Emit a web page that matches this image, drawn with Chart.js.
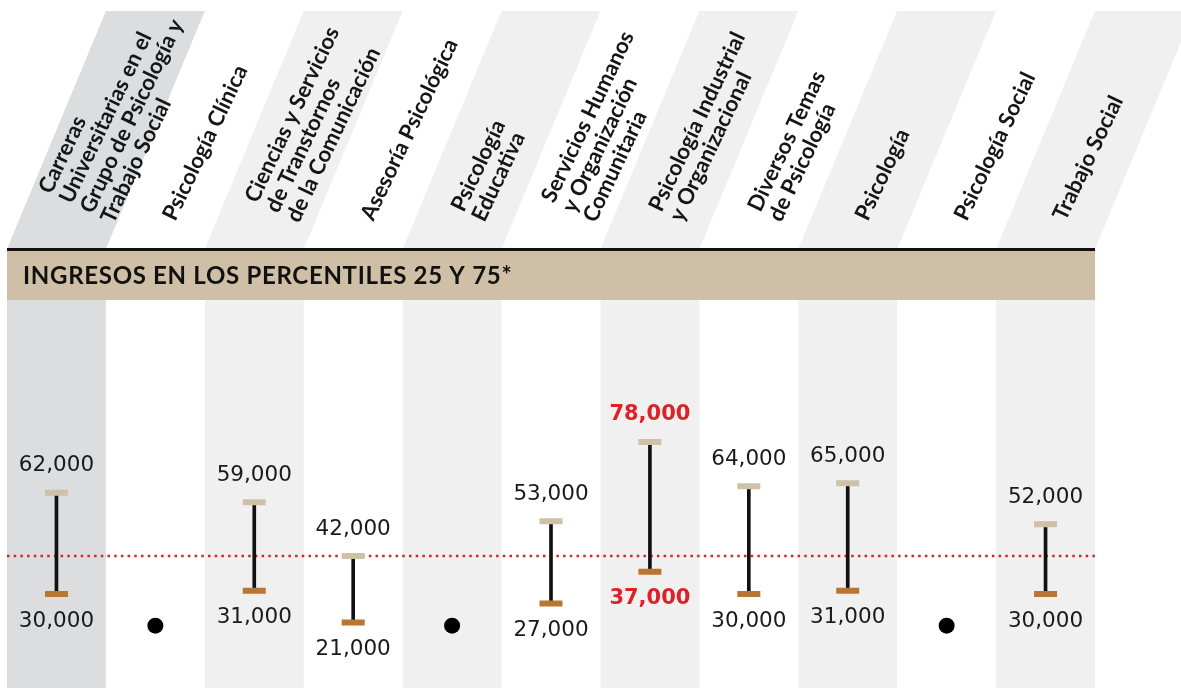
<!DOCTYPE html>
<html>
<head>
<meta charset="utf-8">
<script src="https://cdn.jsdelivr.net/npm/chart.js@4.4.0/dist/chart.umd.min.js"></script>
<style>
html,body{margin:0;padding:0;background:#ffffff;}
#wrap{width:1181px;height:688px;position:relative;overflow:hidden;}
canvas{display:block;}
</style>
</head>
<body>
<div id="wrap"><canvas id="chart" width="1181" height="688"></canvas></div>
<script>
// ---- Data ----
const categories = [
  'Carreras\nUniversitarias en el\nGrupo de Psicología y\nTrabajo Social',
  'Psicología Clínica',
  'Ciencias y Servicios\nde Transtornos\nde la Comunicación',
  'Asesoría Psicológica',
  'Psicología\nEducativa',
  'Servicios Humanos\ny Organización\nComunitaria',
  'Psicología Industrial\ny Organizacional',
  'Diversos Temas\nde Psicología',
  'Psicología',
  'Psicología Social',
  'Trabajo Social'
];
const percentile75 = [62000, null, 59000, 42000, null, 53000, 78000, 64000, 65000, null, 52000];
const percentile25 = [30000, null, 31000, 21000, null, 27000, 37000, 30000, 31000, null, 30000];
const referenceValue = 42000;
const highlightIndex = 6;
const bannerTitle = 'INGRESOS EN LOS PERCENTILES 25 Y 75*';

// ---- Style constants ----
const NO_DATA_LEVEL = 20000;   // where the "no data" dot sits on the value axis
const COLORS = {
  firstBand: '#dcdddf',
  band: '#f0f0f0',
  banner: '#cebfa6',
  capTop: '#cfc1a7',
  capBottom: '#b97633',
  range: '#111111',
  text: '#1a1a1a',
  red: '#dc2229'
};
const HEADER_TOP = 11, HEADER_BOTTOM = 249, BANNER_TOP = 249, BANNER_BOTTOM = 300;
const TEXT_ANGLE = 64.5 * Math.PI / 180;

const fmt = v => v.toLocaleString('en-US');
const labels = categories.map(c => c.replace(/\n/g, ' '));

const rangeData = percentile25.map((v, i) => (v == null || percentile75[i] == null) ? null : [v, percentile75[i]]);
const missingData = percentile25.map((v, i) => (v == null && percentile75[i] == null) ? NO_DATA_LEVEL : null);

function colBounds(chart, i) {
  const xs = chart.scales.x;
  const ca = chart.chartArea;
  const w = (ca.right - ca.left) / categories.length;
  const c = xs.getPixelForValue(i);
  return { left: c - w / 2, right: c + w / 2, center: c, width: w };
}

const decorPlugin = {
  id: 'decor',
  beforeDraw(chart) {
    const ctx = chart.ctx, ca = chart.chartArea;
    ctx.save();
    ctx.fillStyle = '#ffffff';
    ctx.fillRect(0, 0, chart.width, chart.height);
    // column bands + slanted header bands
    for (let i = 0; i < categories.length; i += 2) {
      const b = colBounds(chart, i);
      ctx.fillStyle = i === 0 ? COLORS.firstBand : COLORS.band;
      ctx.fillRect(b.left, BANNER_BOTTOM, b.width, chart.height - BANNER_BOTTOM);
      const shift = b.width;
      ctx.beginPath();
      ctx.moveTo(b.left, HEADER_BOTTOM);
      ctx.lineTo(b.right, HEADER_BOTTOM);
      ctx.lineTo(b.right + shift, HEADER_TOP);
      ctx.lineTo(b.left + shift, HEADER_TOP);
      ctx.closePath();
      ctx.fill();
    }
    // banner
    ctx.fillStyle = COLORS.banner;
    ctx.fillRect(ca.left, BANNER_TOP, ca.right - ca.left, BANNER_BOTTOM - BANNER_TOP);
    ctx.fillStyle = '#111';
    ctx.fillRect(ca.left, BANNER_TOP - 1, ca.right - ca.left, 3);
    ctx.fillStyle = '#111';
    ctx.font = 'bold 24px Lato';
    try { ctx.letterSpacing = '0.7px'; } catch (e) {}
    ctx.textAlign = 'left';
    ctx.textBaseline = 'middle';
    ctx.fillText(bannerTitle, ca.left + 16, (BANNER_TOP + BANNER_BOTTOM) / 2 + 2);
    try { ctx.letterSpacing = '0px'; } catch (e) {}

    // header labels
    ctx.fillStyle = '#151515';
    ctx.font = 'bold 22px Lato';
    ctx.textBaseline = 'alphabetic';
    const lh = 23;
    categories.forEach((cat, i) => {
      const lines = cat.split('\n');
      const n = lines.length;
      const b = colBounds(chart, i);
      ctx.save();
      ctx.translate(b.center + 20, 222);
      ctx.rotate(-TEXT_ANGLE);
      lines.forEach((ln, k) => {
        ctx.fillText(ln, (n - 1) * 4.5, (k - (n - 1) / 2) * lh);
      });
      ctx.restore();
    });

    // reference dotted line
    const y = chart.scales.y.getPixelForValue(referenceValue);
    ctx.strokeStyle = COLORS.red;
    ctx.lineWidth = 2.5;
    ctx.setLineDash([2.5, 4.2]);
    ctx.beginPath();
    ctx.moveTo(ca.left, y);
    ctx.lineTo(ca.right, y);
    ctx.stroke();
    ctx.restore();
  },
  afterDatasetsDraw(chart) {
    const ctx = chart.ctx, ys = chart.scales.y;
    ctx.save();
    ctx.textAlign = 'center';
    ctx.textBaseline = 'middle';
    categories.forEach((c, i) => {
      const hi = i === highlightIndex;
      ctx.fillStyle = hi ? COLORS.red : COLORS.text;
      ctx.font = hi ? 'bold 21px "DejaVu Sans"' : '21.5px "DejaVu Sans"';
      const x = colBounds(chart, i).center;
      if (percentile75[i] != null) ctx.fillText(fmt(percentile75[i]), x, ys.getPixelForValue(percentile75[i]) - 27);
      if (percentile25[i] != null) ctx.fillText(fmt(percentile25[i]), x, ys.getPixelForValue(percentile25[i]) + 27);
    });
    ctx.restore();
  }
};

new Chart(document.getElementById('chart'), {
  type: 'bar',
  data: {
    labels: labels,
    datasets: [
      { type: 'bar', data: rangeData, backgroundColor: COLORS.range, borderWidth: 0, barThickness: 3, order: 5 },
      { type: 'line', data: percentile75, showLine: false, pointStyle: 'line', pointRadius: 11.5, pointHoverRadius: 11.5,
        pointBorderWidth: 6, pointHoverBorderWidth: 6, borderColor: COLORS.capTop, pointBorderColor: COLORS.capTop, order: 2 },
      { type: 'line', data: percentile25, showLine: false, pointStyle: 'line', pointRadius: 11.5, pointHoverRadius: 11.5,
        pointBorderWidth: 6, pointHoverBorderWidth: 6, borderColor: COLORS.capBottom, pointBorderColor: COLORS.capBottom, order: 1 },
      { type: 'line', data: missingData, showLine: false, pointStyle: 'circle', pointRadius: 8, pointHoverRadius: 8,
        pointBorderWidth: 0, pointBackgroundColor: '#000', borderColor: '#000', order: 0 }
    ]
  },
  options: {
    responsive: false,
    animation: false,
    devicePixelRatio: 1,
    layout: { autoPadding: false, padding: { top: 300, left: 7, right: 86, bottom: 0 } },
    plugins: { legend: { display: false }, tooltip: { enabled: false } },
    events: [],
    scales: {
      x: { display: false, offset: true },
      y: { display: false, min: 300, max: 122850 }
    }
  },
  plugins: [decorPlugin]
});
</script>
</body>
</html>
